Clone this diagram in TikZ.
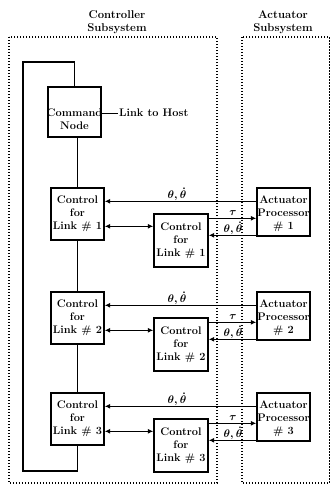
\documentclass[tikz,border=0pt]{standalone}
\usetikzlibrary{arrows.meta}
\begin{document}
\begin{tikzpicture}[x=1pt,y=-1pt,
  box/.style={draw,line width=1.4pt,inner sep=0pt},
  txt/.style={font=\fontsize{11}{13}\selectfont\bfseries,align=center,inner sep=0pt},
  ttl/.style={font=\fontsize{11.3}{13.5}\selectfont\bfseries,align=center,inner sep=0pt},
  dotbox/.style={line width=1.1pt,dash pattern=on 1.1pt off 1.9pt},
  ln/.style={line width=1.1pt},
  arr/.style={line width=1.1pt,-{Latex[length=5.5pt,width=5pt]}},
  barr/.style={line width=1.1pt,{Latex[length=5.5pt,width=5pt]}-{Latex[length=5.5pt,width=5pt]}},
  lab/.style={font=\boldmath\fontsize{10.5}{12}\selectfont,inner sep=0pt}
]
\useasboundingbox (0,0) rectangle (331,485);

% subsystem regions
\draw[dotbox] (9,37) rectangle (217,483);
\draw[dotbox] (242,37) rectangle (329.5,483);
\node[ttl] (t1) at (117,22) {Controller\\Subsystem};
\node[ttl] (t2) at (283,22) {Actuator\\Subsystem};

% command node
\node[box,minimum width=53pt,minimum height=50pt] (cmd) at (74.5,112) {};
\node[txt] (cmdt) at (74.5,119) {Command\\Node};
\node[txt,anchor=west] (host) at (119,113) {Link to Host};
\draw[line width=0.8pt,shorten >=1.5pt] (cmd.east |- host.west) -- (host.west);

\foreach \i/\t in {1/188,2/292,3/393}{
  \node[box,minimum width=53pt,minimum height=52pt] (c\i) at (77.5,\t+26) {};
  \node[txt] (ct\i) at (c\i) {Control\\for\\Link \# \i};
  \node[box,minimum width=54pt,minimum height=53pt] (ic\i) at (181,\t+52.5) {};
  \node[txt] (ict\i) at (ic\i) {Control\\for\\Link \# \i};
  \node[box,minimum width=53pt,minimum height=48pt] (a\i) at (283.5,\t+24) {};
  \node[txt] (at\i) at ([yshift=-2pt]a\i.center) {Actuator\\Processor\\\# \i};
  % theta feedback to main control
  \draw[arr] ([yshift=-14pt]a\i.north west) coordinate (p\i) -- (p\i -| c\i.east);
  \node[lab] (lp\i) at (177,\t+6) {$\theta,\dot\theta$};
  % bidirectional link
  \draw[barr] ([yshift=-39pt]c\i.north east) coordinate (q\i) -- (q\i -| ic\i.west);
  % tau
  \draw[arr] ([yshift=-5pt]ic\i.north east) coordinate (r\i) -- (r\i -| a\i.west);
  \node[lab] (lr\i) at (233,\t+25) {$\tau$};
  % theta to inner control
  \coordinate (s\i) at ([yshift=-22pt]ic\i.north east);
  \draw[arr] (s\i -| a\i.west) -- (s\i);
  \node[lab] (ls\i) at (233,\t+40) {$\theta,\dot\theta$};
}

% chain and loop
\draw[ln] (c1.north) -- (c1.north |- cmd.south);
\draw[ln] (c1.south) -- (c2.north);
\draw[ln] (c2.south) -- (c3.north);
\coordinate (lb) at (23,471);
\coordinate (lt) at (23,62);
\draw[ln] (c3.south) |- (lb) -- (lt) -| (cmd.north);
\end{tikzpicture}
\end{document}
